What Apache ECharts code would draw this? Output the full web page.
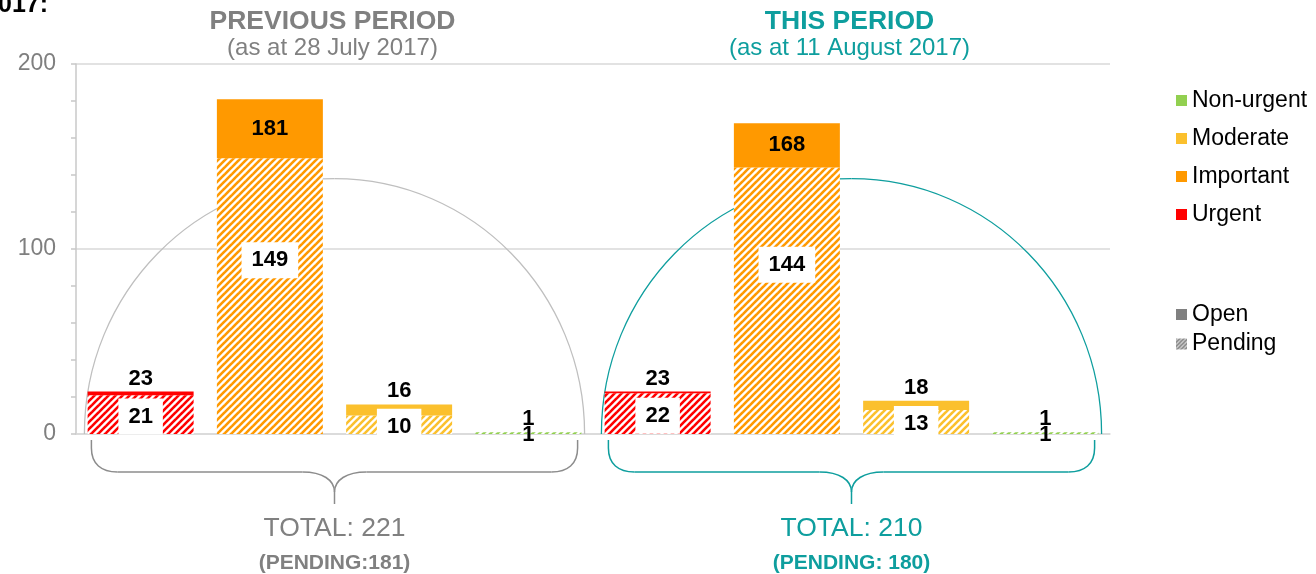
<!DOCTYPE html>
<html>
<head>
<meta charset="utf-8">
<script src="https://cdn.jsdelivr.net/npm/echarts@6/dist/echarts.min.js"></script>
<style>
html,body{margin:0;padding:0;background:#fff;}
#chart{width:1316px;height:574px;}
</style>
</head>
<body>
<div id="chart"></div>
<script>
// ---- data ----
const priorities = ['Urgent', 'Important', 'Moderate', 'Non-urgent'];
const periods = ['PREVIOUS PERIOD', 'THIS PERIOD'];
const periodDates = ['(as at 28 July 2017)', '(as at 11 August 2017)'];
const prevTotal = [23, 181, 16, 1];
const prevPending = [21, 149, 10, 1];
const thisTotal = [23, 168, 18, 1];
const thisPending = [22, 144, 13, 1];
const periodTotals = ['TOTAL: 221', 'TOTAL: 210'];
const periodPendingTexts = ['(PENDING:181)', '(PENDING: 180)'];
const yTicks = [0, 100, 200];
const legendPriorities = ['Non-urgent', 'Moderate', 'Important', 'Urgent'];

// ---- style ----
const FONT = 'Liberation Sans, Arial, sans-serif';
const prioColor = {'Urgent': '#FF0000', 'Important': '#FF9900', 'Moderate': '#FBC02D', 'Non-urgent': '#92D050'};
const periodColor = ['#808080', '#0E9E9E'];
const arcColor = ['#BFBFBF', '#0E9E9E'];
const braceColor = ['#8C8C8C', '#0E9E9E'];

function hatch(color, size, lw) {
  const T = size || 7;
  const c = document.createElement('canvas');
  c.width = T; c.height = T;
  const g = c.getContext('2d');
  g.fillStyle = '#fff';
  g.fillRect(0, 0, T, T);
  g.strokeStyle = color;
  g.lineWidth = lw || 2.6;
  for (let o = -T; o <= T; o += T) {
    g.beginPath();
    g.moveTo(o - 1, T + 1);
    g.lineTo(o + T + 1, -1);
    g.stroke();
  }
  return {image: c, repeat: 'repeat'};
}

const categories = [];
const totals = prevTotal.concat(thisTotal);
const pendings = prevPending.concat(thisPending);
const prioOfCat = [];
periods.forEach((p) => priorities.forEach(pr => { categories.push(p + ' ' + pr); prioOfCat.push(pr); }));
const opens = totals.map((t, i) => t - pendings[i]);

const labelBase = {fontFamily: FONT, fontSize: 22, fontWeight: 'bold', color: '#000'};

const pendingData = pendings.map((v, i) => ({
  value: v,
  itemStyle: {color: hatch(prioColor[prioOfCat[i]])},
  label: Object.assign({}, labelBase, {
    show: true,
    position: 'inside',
    offset: v > 50 ? [0, -36] : [0, 2],
    backgroundColor: v >= 5 ? '#fff' : 'transparent',
    padding: v >= 5 ? [7, 10] : 0,
    formatter: String(v)
  })
}));
const openData = opens.map((v, i) => ({
  value: v,
  itemStyle: {color: prioColor[prioOfCat[i]]},
  label: Object.assign({}, labelBase, {
    show: true,
    position: v >= 20 ? 'inside' : 'top',
    distance: 2,
    formatter: String(totals[i])
  })
}));

const GRID = {left: 76, right: 206, top: 64, bottom: 140};

const chart = echarts.init(document.getElementById('chart'), null, {renderer: 'canvas'});

const legendSeries = legendPriorities.map(n => ({name: n, type: 'line', data: [], itemStyle: {color: prioColor[n]}}));

const legendText = {fontFamily: FONT, fontSize: 23, color: '#000'};
const option = {
  animation: false,
  textStyle: {fontFamily: FONT},
  grid: GRID,
  legend: [
    {
      orient: 'vertical', left: 1176, top: 89, padding: 0, itemWidth: 11, itemHeight: 11, itemGap: 15,
      selectedMode: false,
      textStyle: legendText,
      data: legendPriorities.map(n => ({name: n, icon: 'rect', itemStyle: {color: prioColor[n]}}))
    },
    {
      orient: 'vertical', left: 1176, top: 303, padding: 0, itemWidth: 11, itemHeight: 11, itemGap: 6.5,
      selectedMode: false,
      textStyle: legendText,
      data: [
        {name: 'Open', icon: 'rect', itemStyle: {color: '#808080'}},
        {name: 'Pending', icon: 'rect', itemStyle: {color: hatch('#8a8a8a', 4, 2)}}
      ]
    }
  ],
  xAxis: {
    type: 'category',
    data: categories,
    axisLine: {show: true, lineStyle: {color: '#D9D9D9', width: 1.5}},
    axisTick: {show: false},
    axisLabel: {show: false},
    splitLine: {show: false}
  },
  yAxis: {
    type: 'value',
    min: 0, max: 200, interval: 100,
    axisLine: {show: true, lineStyle: {color: '#C8C8C8', width: 1.5}},
    axisTick: {show: true, length: 5, lineStyle: {color: '#C8C8C8', width: 1.5}},
    minorTick: {show: true, splitNumber: 5, length: 5, lineStyle: {color: '#C8C8C8', width: 1.5}},
    axisLabel: {fontFamily: FONT, fontSize: 23, color: '#7F7F7F', margin: 20,
      formatter: v => yTicks.indexOf(v) >= 0 ? String(v) : ''},
    splitLine: {show: true, lineStyle: {color: '#D9D9D9', width: 1.5}}
  },
  series: [
    {name: 'Pending', type: 'bar', stack: 'all', barCategoryGap: '18%', data: pendingData, z: 3},
    {name: 'Open', type: 'bar', stack: 'all', barCategoryGap: '18%', data: openData, z: 3}
  ].concat(legendSeries)
};
chart.setOption(option);

// decorations computed from the axes
function px(idx, val) { return chart.convertToPixel({xAxisIndex: 0, yAxisIndex: 0}, [idx, val]); }
const catW = px(1, 0)[0] - px(0, 0)[0];
const y0 = px(0, 0)[1];
const graphics = [];
const K = 0.5523;
periods.forEach((p, g) => {
  const xa = px(4 * g, 0)[0], xb = px(4 * g + 3, 0)[0];
  const cx = (xa + xb) / 2;
  const rx = (xb - xa) / 2 + catW * 0.435;
  const ry = y0 - px(0, 138)[1];
  const hy = y0 + 38;
  const stA = {fill: null, stroke: arcColor[g], lineWidth: 1.3};
  const stB = {fill: null, stroke: braceColor[g], lineWidth: 1.5};
  const bz = (st, x1, y1, c1x, c1y, c2x, c2y, x2, y2) => ({
    type: 'bezierCurve', z: 1, silent: true,
    shape: {x1: x1, y1: y1, cpx1: c1x, cpy1: c1y, cpx2: c2x, cpy2: c2y, x2: x2, y2: y2},
    style: st
  });
  const ln = (st, x1, y1, x2, y2) => ({type: 'line', z: 1, silent: true, shape: {x1: x1, y1: y1, x2: x2, y2: y2}, style: st});
  // upper half ellipse
  graphics.push(bz(stA, cx - rx, y0, cx - rx, y0 - K * ry, cx - K * rx, y0 - ry, cx, y0 - ry));
  graphics.push(bz(stA, cx, y0 - ry, cx + K * rx, y0 - ry, cx + rx, y0 - K * ry, cx + rx, y0));
  // brace below
  const bx = rx - 7;
  [1, -1].forEach(s => {
    graphics.push(ln(stB, cx + s * bx, y0 + 6, cx + s * bx, y0 + 14));
    graphics.push(bz(stB, cx + s * bx, y0 + 14, cx + s * bx, hy - 8, cx + s * (bx - 10), hy, cx + s * (bx - 26), hy));
    graphics.push(ln(stB, cx + s * (bx - 26), hy, cx + s * 32, hy));
    graphics.push(bz(stB, cx + s * 32, hy, cx + s * 12, hy, cx, hy + 8, cx, hy + 20));
  });
  graphics.push(ln(stB, cx, hy + 20, cx, hy + 32));
  graphics.push({
    type: 'text', z: 5, x: cx, y: 529,
    style: {text: periodTotals[g], fill: periodColor[g], font: '26.5px ' + FONT, align: 'center', verticalAlign: 'middle'}
  });
  graphics.push({
    type: 'text', z: 5, x: cx, y: 563,
    style: {text: periodPendingTexts[g], fill: periodColor[g], font: 'bold 21px ' + FONT, align: 'center', verticalAlign: 'middle'}
  });
  graphics.push({
    type: 'text', z: 5, x: cx - 2, y: 22,
    style: {text: p, fill: periodColor[g], font: 'bold 26.5px ' + FONT, align: 'center', verticalAlign: 'middle'}
  });
  graphics.push({
    type: 'text', z: 5, x: cx - 2, y: 48,
    style: {text: periodDates[g], fill: periodColor[g], font: '24px ' + FONT, align: 'center', verticalAlign: 'middle'}
  });
});
graphics.push({
  type: 'text', z: 5, x: -2, y: 5,
  style: {text: '017:', fill: '#000', font: 'bold 25px ' + FONT, align: 'left', verticalAlign: 'middle'}
});
chart.setOption({graphic: graphics});
</script>
</body>
</html>
